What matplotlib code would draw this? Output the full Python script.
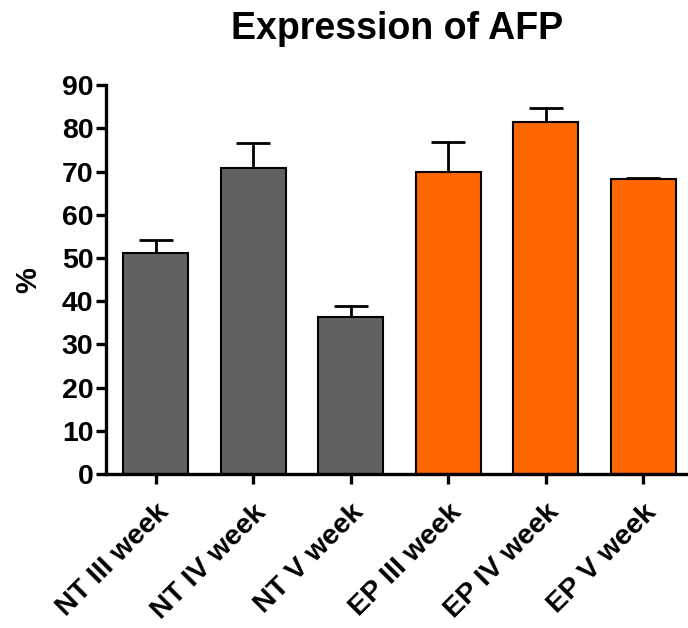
import matplotlib
matplotlib.use("Agg")
import matplotlib.pyplot as plt

# data
groups = ["NT III week", "NT IV week", "NT V week",
          "EP III week", "EP IV week", "EP V week"]
means = [51.2, 70.8, 36.3, 69.9, 81.5, 68.3]
errors = [3.0, 5.8, 2.6, 7.0, 3.2, 0.2]
bar_colors = ["#616161"] * 3 + ["#FF6600"] * 3

plt.rcParams['font.family'] = ['Liberation Sans', 'DejaVu Sans']
plt.rcParams['font.weight'] = 'bold'

fig = plt.figure(figsize=(6.88, 6.28), dpi=100)
ax = fig.add_axes([0.154, 0.245, 0.846, 0.6195])

x = list(range(len(groups)))
ax.bar(x, means, width=0.667, color=bar_colors, edgecolor='black', linewidth=1.5, zorder=2)
ax.errorbar(x, means, yerr=[[0] * len(errors), errors], fmt='none', ecolor='black',
            elinewidth=2, capsize=12, capthick=2, zorder=1)

ax.set_xlim(-0.513, 5.46)
ax.set_ylim(0, 90)
ax.set_yticks(range(0, 91, 10))
ax.set_xticks(x)
ax.set_xticklabels(groups, rotation=45, ha='right', va='top', rotation_mode='anchor',
                   fontsize=20.5, fontweight='bold')
for lab in ax.get_yticklabels():
    lab.set_fontsize(20.5)
    lab.set_fontweight('bold')

ax.spines['top'].set_visible(False)
ax.spines['right'].set_visible(False)
ax.spines['left'].set_linewidth(2.4)
ax.spines['bottom'].set_linewidth(2.4)
ax.tick_params(axis='both', direction='out', length=7, width=2.4, pad=2)
ax.tick_params(axis='x', pad=11)

ax.set_ylabel('%', fontsize=21, fontweight='bold', labelpad=14)
ax.set_title('Expression of AFP', fontsize=27, fontweight='bold', pad=33)

fig.savefig('out.png', dpi=100)
